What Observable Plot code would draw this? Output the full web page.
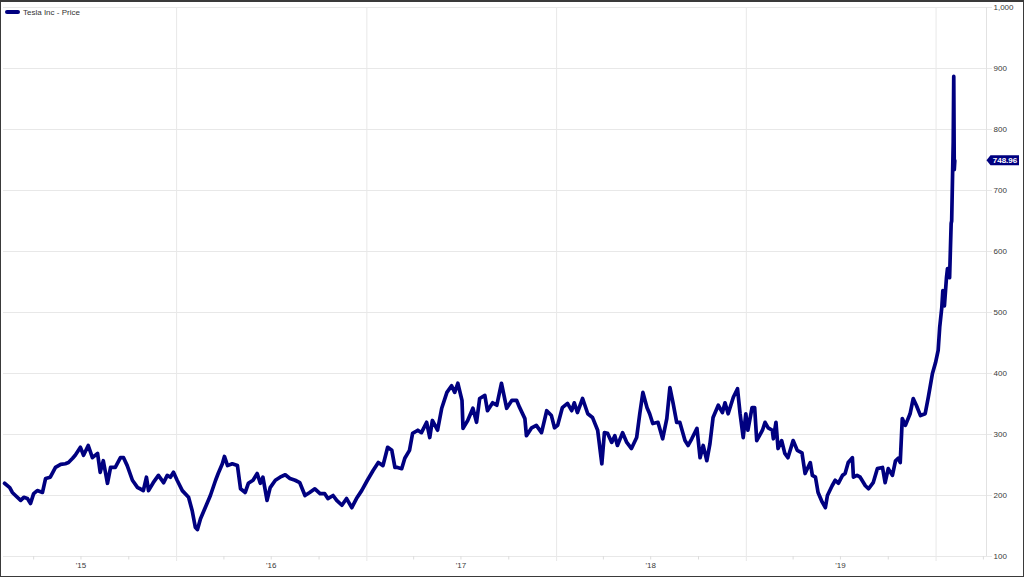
<!DOCTYPE html>
<html><head><meta charset="utf-8">
<script src="https://cdn.jsdelivr.net/npm/d3@7"></script>
<script src="https://cdn.jsdelivr.net/npm/@observablehq/plot@0.6"></script>
<style>
html,body{margin:0;padding:0;background:#fff;}
#wrap{position:relative;width:1024px;height:577px;overflow:hidden;font-family:"Liberation Sans",Arial,sans-serif;}
#chart{position:absolute;left:0;top:0;}
#frame{position:absolute;left:0;top:0;width:1024px;height:577px;box-sizing:border-box;border:1px solid #3a3a3a;border-top-width:2px;pointer-events:none;}
#legend{position:absolute;left:5px;top:7px;height:10px;font-size:8px;color:#333;display:flex;align-items:center;white-space:nowrap;}
#legend .sw{display:inline-block;width:15px;height:3.5px;background:#000080;border-radius:2px;margin-right:3px;}
</style></head><body>
<div id="wrap"><div id="chart"></div><div id="legend"><span class="sw"></span><span id="legendText"></span></div><div id="frame"></div></div>
<script>
const seriesName = "Tesla Inc - Price";
const lastLabel = "748.96";

const prices2015 = [["2015-02-04",220],["2015-02-14",213],["2015-02-19",205],["2015-02-25",200],["2015-03-07",192],["2015-03-13",197],["2015-03-20",195],["2015-03-26",187],["2015-04-01",203],["2015-04-08",208],["2015-04-18",205],["2015-04-24",228],["2015-05-03",230],["2015-05-13",246],["2015-05-23",251],["2015-06-01",252],["2015-06-07",254],["2015-06-15",261],["2015-06-20",266],["2015-06-30",279],["2015-07-06",266],["2015-07-15",282],["2015-07-23",262],["2015-08-02",269],["2015-08-07",238],["2015-08-13",257],["2015-08-21",220],["2015-08-27",246],["2015-09-05",246],["2015-09-15",262],["2015-09-21",262],["2015-09-28",249],["2015-10-08",225],["2015-10-18",213],["2015-10-23",211],["2015-10-29",208],["2015-11-04",230],["2015-11-08",208],["2015-11-17",221],["2015-11-27",233],["2015-12-07",221],["2015-12-14",233],["2015-12-20",230],["2015-12-26",238]];

const prices2016 = [["2016-01-02",225],["2016-01-12",208],["2016-01-24",197],["2016-01-31",175],["2016-02-06",148],["2016-02-10",144],["2016-02-16",162],["2016-02-25",180],["2016-03-06",200],["2016-03-16",225],["2016-03-21",236],["2016-03-29",252],["2016-04-02",264],["2016-04-08",249],["2016-04-17",252],["2016-04-27",249],["2016-05-03",211],["2016-05-12",205],["2016-05-18",220],["2016-05-27",225],["2016-06-04",236],["2016-06-10",220],["2016-06-15",230],["2016-06-23",192],["2016-06-29",213],["2016-07-09",225],["2016-07-18",230],["2016-07-28",234],["2016-08-06",228],["2016-08-16",225],["2016-08-25",221],["2016-09-04",200],["2016-09-13",205],["2016-09-23",211],["2016-10-03",203],["2016-10-12",203],["2016-10-18",195],["2016-10-28",200],["2016-11-04",192],["2016-11-14",184],["2016-11-23",195],["2016-12-03",180],["2016-12-12",195],["2016-12-22",208]];

const prices2017 = [["2017-01-02",225],["2017-01-13",241],["2017-01-23",254],["2017-02-01",249],["2017-02-10",279],["2017-02-18",274],["2017-02-24",246],["2017-03-01",246],["2017-03-09",244],["2017-03-15",261],["2017-03-24",274],["2017-03-30",302],["2017-04-09",307],["2017-04-16",303],["2017-04-26",320],["2017-05-02",295],["2017-05-07",323],["2017-05-17",307],["2017-05-25",343],["2017-06-04",369],["2017-06-13",380],["2017-06-19",369],["2017-06-25",384],["2017-07-03",356],["2017-07-05",310],["2017-07-14",323],["2017-07-24",343],["2017-07-31",320],["2017-08-06",359],["2017-08-16",364],["2017-08-21",339],["2017-08-31",352],["2017-09-08",348],["2017-09-17",384],["2017-09-27",343],["2017-10-07",356],["2017-10-16",356],["2017-10-22",344],["2017-11-01",326],["2017-11-04",298],["2017-11-14",311],["2017-11-23",315],["2017-12-03",303],["2017-12-13",339],["2017-12-22",331],["2017-12-28",311]];

const prices2018 = [["2018-01-03",315],["2018-01-12",344],["2018-01-22",351],["2018-01-30",339],["2018-02-04",352],["2018-02-10",336],["2018-02-20",359],["2018-03-02",334],["2018-03-11",328],["2018-03-21",307],["2018-03-29",252],["2018-04-03",303],["2018-04-09",302],["2018-04-17",287],["2018-04-23",298],["2018-04-28",282],["2018-05-08",303],["2018-05-16",287],["2018-05-25",277],["2018-06-04",295],["2018-06-10",334],["2018-06-16",369],["2018-06-24",344],["2018-06-29",334],["2018-07-05",318],["2018-07-15",320],["2018-07-24",293],["2018-08-01",326],["2018-08-07",377],["2018-08-13",352],["2018-08-20",320],["2018-08-26",320],["2018-09-05",290],["2018-09-11",282],["2018-09-18",293],["2018-09-28",310],["2018-10-04",262],["2018-10-10",282],["2018-10-17",257],["2018-10-23",285],["2018-10-29",328],["2018-11-08",348],["2018-11-16",336],["2018-11-21",352],["2018-11-27",334],["2018-12-07",361],["2018-12-15",375],["2018-12-20",334],["2018-12-26",295],["2018-12-31",334]];

const prices2019 = [["2019-01-04",307],["2019-01-12",344],["2019-01-17",344],["2019-01-21",290],["2019-02-01",307],["2019-02-06",320],["2019-02-12",311],["2019-02-20",307],["2019-02-22",293],["2019-02-27",320],["2019-03-03",277],["2019-03-10",290],["2019-03-16",269],["2019-03-22",262],["2019-04-01",290],["2019-04-09",274],["2019-04-18",270],["2019-04-24",236],["2019-05-04",254],["2019-05-08",233],["2019-05-14",230],["2019-05-19",205],["2019-05-27",189],["2019-06-02",180],["2019-06-06",200],["2019-06-15",216],["2019-06-21",225],["2019-06-27",220],["2019-07-05",233],["2019-07-10",236],["2019-07-16",254],["2019-07-24",262],["2019-07-26",230],["2019-08-02",233],["2019-08-08",230],["2019-08-18",216],["2019-08-24",211],["2019-09-02",221],["2019-09-10",244],["2019-09-20",246],["2019-09-25",221],["2019-10-01",244],["2019-10-09",233],["2019-10-15",257],["2019-10-20",261],["2019-10-24",254],["2019-10-28",326],["2019-11-03",315],["2019-11-12",334],["2019-11-18",359],["2019-11-24",348],["2019-12-02",331],["2019-12-11",334],["2019-12-17",361],["2019-12-25",400],["2019-12-31",418]];

const prices2020 = [["2020-01-05",438],["2020-01-08",476],["2020-01-12",508],["2020-01-14",536],["2020-01-17",511],["2020-01-21",557],["2020-01-23",572],["2020-01-27",557],["2020-01-30",646],["2020-01-31",650],["2020-02-03",780],["2020-02-04",887],["2020-02-05",734],["2020-02-06",748.96]];

const yTicks = [100, 200, 300, 400, 500, 600, 700, 800, 900, 1000];
const xDomain = ["2015-02-02", "2020-04-07"];
const yearStarts = ["2016-01-01", "2017-01-01", "2018-01-01", "2019-01-01", "2020-01-01"];
const quarterStarts = ["2015-04-01","2015-07-01","2015-10-01","2016-04-01","2016-07-01","2016-10-01","2017-04-01","2017-07-01","2017-10-01","2018-04-01","2018-07-01","2018-10-01","2019-04-01","2019-07-01","2019-10-01","2020-04-01"];
const yearLabelDates = ["2015-07-01", "2016-07-01", "2017-07-01", "2018-07-01", "2019-07-01"];
const yearLabels = ["'15", "'16", "'17", "'18", "'19"];

const parse = s => new Date(s);
const data = [...prices2015, ...prices2016, ...prices2017, ...prices2018, ...prices2019, ...prices2020]
  .map(([d, p]) => ({date: parse(d), price: p}));
const labelRows = yearLabelDates.map((d, i) => ({date: parse(d), label: yearLabels[i]}));
const fmt = d3.format(",");
const gridColor = "#e8e8e8";

document.getElementById("legendText").textContent = seriesName;

const plot = Plot.plot({
  width: 1024, height: 577,
  marginLeft: 3, marginRight: 38, marginTop: 7, marginBottom: 21,
  style: {fontFamily: "Liberation Sans, Arial, sans-serif", fontSize: "8px", background: "transparent", overflow: "visible"},
  x: {type: "utc", domain: xDomain.map(parse), axis: null},
  y: {type: "linear", domain: [100, 1000], axis: null},
  marks: [
    Plot.ruleY(yTicks, {stroke: gridColor, strokeWidth: 1, insetRight: -6}),
    Plot.ruleX(yearStarts.map(parse), {stroke: gridColor, strokeWidth: 1, insetBottom: -5}),
    Plot.axisX(quarterStarts.map(parse), {tickSize: 3.5, tickFormat: () => "", color: "#dcdcdc", label: null}),
    Plot.ruleX([parse(xDomain[1])], {stroke: "#e2e2e2", strokeWidth: 1}),
    Plot.text(yTicks, {y: d => d, frameAnchor: "right", dx: 7, textAnchor: "start", text: d => fmt(d), fill: "#3a3a3a", fontSize: 8}),
    Plot.text(labelRows, {x: "date", frameAnchor: "bottom", dy: 11, text: "label", fill: "#3a3a3a", fontSize: 8}),
    Plot.lineY(data, {x: "date", y: "price", stroke: "#000080", strokeWidth: 3.7, strokeLinejoin: "round", strokeLinecap: "round"})
  ]
});
document.getElementById("chart").appendChild(plot);

// last value callout using the plot's own scales
const ys = plot.scale("y"), xs = plot.scale("x");
const last = data[data.length - 1];
const yv = ys.apply(last.price);
const xr = xs.range[1];
const g = d3.select(plot).append("g");
g.append("path")
  .attr("d", `M${xr + 0.5},${yv} L${xr + 4.5},${yv - 5} H${xr + 33} V${yv + 5} H${xr + 4.5} Z`)
  .attr("fill", "#000080");
g.append("text")
  .attr("x", xr + 19).attr("y", yv).attr("dy", "0.35em")
  .attr("text-anchor", "middle").attr("fill", "#fff")
  .attr("font-size", 8).attr("font-weight", "bold").attr("font-family", "Liberation Sans, Arial, sans-serif")
  .text(lastLabel);
</script>
</body></html>
